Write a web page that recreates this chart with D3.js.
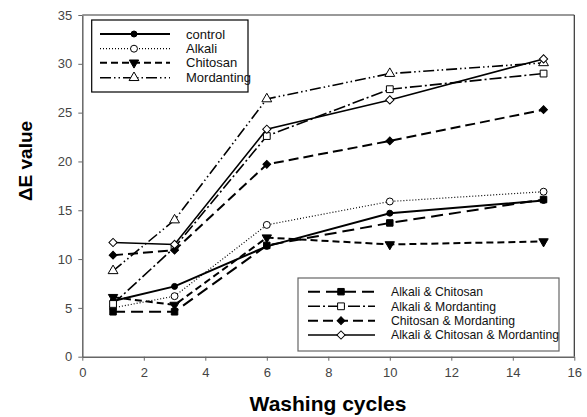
<!DOCTYPE html>
<html lang="en">
<head>
<meta charset="UTF-8">
<script src="https://d3js.org/d3.v7.min.js"></script>
<title>Washing cycles</title>
<style>
  body { margin: 0; background: #fff; }
  svg { display: block; font-family: "Liberation Sans", Arial, sans-serif; }
  .tick text { fill: #444; font-size: 13px; }
  .axis path, .axis line { stroke: #666; }
</style>
</head>
<body>
<div id="chart"></div>
<script>
// washing cycles
const cycles = [1, 3, 6, 10, 15];
const xTicks = [0, 2, 4, 6, 8, 10, 12, 14, 16];
const yTicks = [0, 5, 10, 15, 20, 25, 30, 35];

// delta E values per treatment
const control = [5.7, 7.2, 11.3, 14.7, 16.0];
const alkali = [5.0, 6.2, 13.5, 15.9, 16.9];
const chitosan = [6.1, 5.3, 12.2, 11.5, 11.8];
const mordanting = [8.8, 14.0, 26.4, 29.0, 30.1];
const alkaliChitosan = [4.6, 4.6, 11.4, 13.7, 16.1];
const alkaliMordanting = [5.4, 11.2, 22.6, 27.4, 29.0];
const chitosanMordanting = [10.4, 10.9, 19.7, 22.1, 25.3];
const alkaliChitosanMordanting = [11.7, 11.5, 23.3, 26.3, 30.5];

const legend1 = ["control", "Alkali", "Chitosan", "Mordanting"];
const legend2 = ["Alkali & Chitosan", "Alkali & Mordanting", "Chitosan & Mordanting", "Alkali & Chitosan & Mordanting"];

const series = [
  { name: "control", values: control, dash: null, width: 2, sym: d3.symbolCircle, size: 28, fill: "#000" },
  { name: "Alkali", values: alkali, dash: "1,2", width: 1.2, sym: d3.symbolCircle, size: 38, fill: "#fff" },
  { name: "Chitosan", values: chitosan, dash: "7,4", width: 2, sym: d3.symbolTriangle, size: 38, fill: "#000", rot: 180 },
  { name: "Mordanting", values: mordanting, dash: "11,3,1.5,3,1.5,3", width: 1.6, sym: d3.symbolTriangle, size: 42, fill: "#fff" },
  { name: "Alkali & Chitosan", values: alkaliChitosan, dash: "12,6", width: 2, sym: d3.symbolSquare, size: 42, fill: "#000" },
  { name: "Alkali & Mordanting", values: alkaliMordanting, dash: "12,3,2,3", width: 1.6, sym: d3.symbolSquare, size: 46, fill: "#fff" },
  { name: "Chitosan & Mordanting", values: chitosanMordanting, dash: "10,5", width: 2, sym: d3.symbolSquare, size: 30, fill: "#000", rot: 45 },
  { name: "Alkali & Chitosan & Mordanting", values: alkaliChitosanMordanting, dash: null, width: 1.6, sym: d3.symbolSquare, size: 34, fill: "#fff", rot: 45 }
];

const W = 587, H = 417;
const plotL = 82.3, plotR = 574.3, plotT = 15, plotB = 356.7;

const svg = d3.select("#chart").append("svg")
  .attr("width", W).attr("height", H);

const x = d3.scaleLinear().domain([0, 16]).range([plotL, plotR]);
const y = d3.scaleLinear().domain([0, 35]).range([plotB, plotT]);

// frame top/right
svg.append("line").attr("x1", plotL).attr("x2", plotR).attr("y1", plotT).attr("y2", plotT)
  .attr("stroke", "#777").attr("stroke-width", 1.5);
svg.append("line").attr("x1", plotR).attr("x2", plotR).attr("y1", plotT).attr("y2", plotB)
  .attr("stroke", "#333").attr("stroke-width", 1.2);

svg.append("g").attr("class", "axis")
  .attr("transform", "translate(0," + plotB + ")")
  .call(d3.axisBottom(x).tickValues(xTicks).tickSize(4).tickPadding(7).tickSizeOuter(0))
  .call(g => g.select(".domain").attr("stroke-width", 1.5));

svg.append("g").attr("class", "axis")
  .attr("transform", "translate(" + plotL + ",0)")
  .call(d3.axisLeft(y).tickValues(yTicks).tickSize(4).tickPadding(6).tickSizeOuter(0))
  .call(g => g.select(".domain").attr("stroke-width", 1.5));

const line = d3.line().x((d, i) => x(cycles[i])).y(d => y(d));

function marker(g, s) {
  g.attr("d", d3.symbol().type(s.sym).size(s.size))
    .attr("fill", s.fill).attr("stroke", "#000").attr("stroke-width", 1);
}

series.forEach(s => {
  svg.append("path").datum(s.values)
    .attr("d", line).attr("fill", "none")
    .attr("stroke", "#000").attr("stroke-width", s.width)
    .attr("stroke-dasharray", s.dash);
  svg.selectAll(null).data(s.values).enter().append("path")
    .attr("transform", (d, i) => "translate(" + x(cycles[i]) + "," + y(d) + ")" + (s.rot ? " rotate(" + s.rot + ")" : ""))
    .call(g => marker(g, s));
});

function drawLegend(names, box, rows, lx1, lx2, mx, tx, size, boxColor) {
  svg.append("rect").attr("x", box[0]).attr("y", box[1]).attr("width", box[2]).attr("height", box[3])
    .attr("fill", "#fff").attr("stroke", boxColor).attr("stroke-width", 1.2);
  names.forEach((n, i) => {
    const s = series.find(d => d.name === n);
    const yy = rows[i];
    svg.append("line").attr("x1", lx1).attr("x2", lx2).attr("y1", yy).attr("y2", yy)
      .attr("stroke", "#000").attr("stroke-width", s.width).attr("stroke-dasharray", s.dash);
    svg.append("path")
      .attr("transform", "translate(" + mx + "," + yy + ")" + (s.rot ? " rotate(" + s.rot + ")" : ""))
      .call(g => marker(g, s));
    svg.append("text").attr("x", tx).attr("y", yy).attr("dy", "0.35em")
      .attr("font-size", size).attr("fill", "#111").text(n);
  });
}

drawLegend(legend1, [91.7, 20, 156.3, 72], [34, 48.7, 62.7, 77.7], 100, 170, 134, 186, 13, "#000");
drawLegend(legend2, [298, 278, 261, 73], [291.7, 306.3, 320.7, 335], 308, 375, 341, 391, 12.2, "#666");

// axis titles
svg.append("text").attr("x", 328).attr("y", 411).attr("text-anchor", "middle")
  .attr("font-size", 21).attr("font-weight", "bold").attr("fill", "#000")
  .text("Washing cycles");
svg.append("text").attr("transform", "translate(32,161) rotate(-90)").attr("text-anchor", "middle")
  .attr("font-size", 19).attr("font-weight", "bold").attr("fill", "#000")
  .text("ΔE value");
</script>
</body>
</html>
